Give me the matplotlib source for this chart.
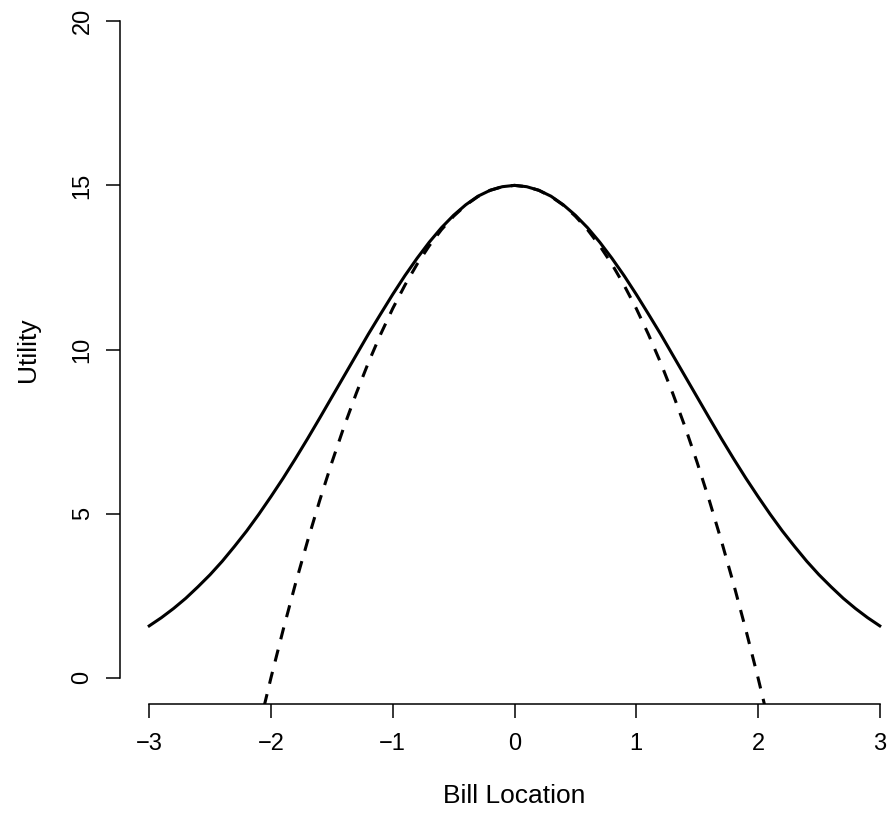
import matplotlib
matplotlib.use("Agg")
import matplotlib.pyplot as plt

# values, step 0.1
x_solid = [round(-3 + 0.1 * i, 1) for i in range(61)]
y_right = [15.00, 14.96, 14.85, 14.67, 14.41, 14.09, 13.71, 13.27, 12.78, 12.25,
           11.68, 11.08, 10.47, 9.83, 9.19, 8.55, 7.91, 7.28, 6.67, 6.08,
           5.52, 4.98, 4.47, 4.00, 3.55, 3.14, 2.77, 2.42, 2.11, 1.83, 1.58]
y_solid = y_right[:0:-1] + y_right

x_dash = [round(-2.1 + 0.1 * i, 1) for i in range(43)]
d_right = [15.00, 14.96, 14.85, 14.66, 14.40, 14.06, 13.65, 13.16, 12.60, 11.96,
           11.25, 10.46, 9.60, 8.66, 7.65, 6.56, 5.40, 4.16, 2.85, 1.46,
           0.00, -1.54]
y_dash = d_right[:0:-1] + d_right

xticks = [-3, -2, -1, 0, 1, 2, 3]
xlabels = ["\u22123", "\u22122", "\u22121", "0", "1", "2", "3"]
yticks = [0, 5, 10, 15, 20]

plt.rcParams['font.family'] = ['Liberation Sans', 'DejaVu Sans']

fig = plt.figure(figsize=(8.91, 8.14), dpi=100)
W, H = 891, 814
# plot region in pixels (extends past the right/top edge like the original)
left, right, top, bottom = 120, 909, -5, 704
ax = fig.add_axes([left / W, 1 - bottom / H, (right - left) / W, (bottom - top) / H])

ax.plot(x_solid, y_solid, color="black", lw=2.2)
ax.plot(x_dash, y_dash, color="black", lw=2.2, dashes=(4, 3.5))

ax.set_xlim(-3.24, 3.24)
ax.set_ylim(-0.8, 20.8)

for s in ["top", "right"]:
    ax.spines[s].set_visible(False)
ax.spines["bottom"].set_bounds(-3, 3)
ax.spines["left"].set_bounds(0, 20)
for s in ["bottom", "left"]:
    ax.spines[s].set_linewidth(1.1)

ax.set_xticks(xticks)
ax.set_xticklabels(xlabels)
ax.set_yticks(yticks)
ax.set_yticklabels([str(v) for v in yticks], rotation=90, va="center")
ax.tick_params(length=10, width=1.1, labelsize=17, pad=11)
ax.tick_params(axis="y", pad=9)

ax.set_xlabel("Bill Location", fontsize=19, labelpad=21)
ax.set_ylabel("Utility", fontsize=19, labelpad=23)

fig.savefig("out.png", dpi=100)
